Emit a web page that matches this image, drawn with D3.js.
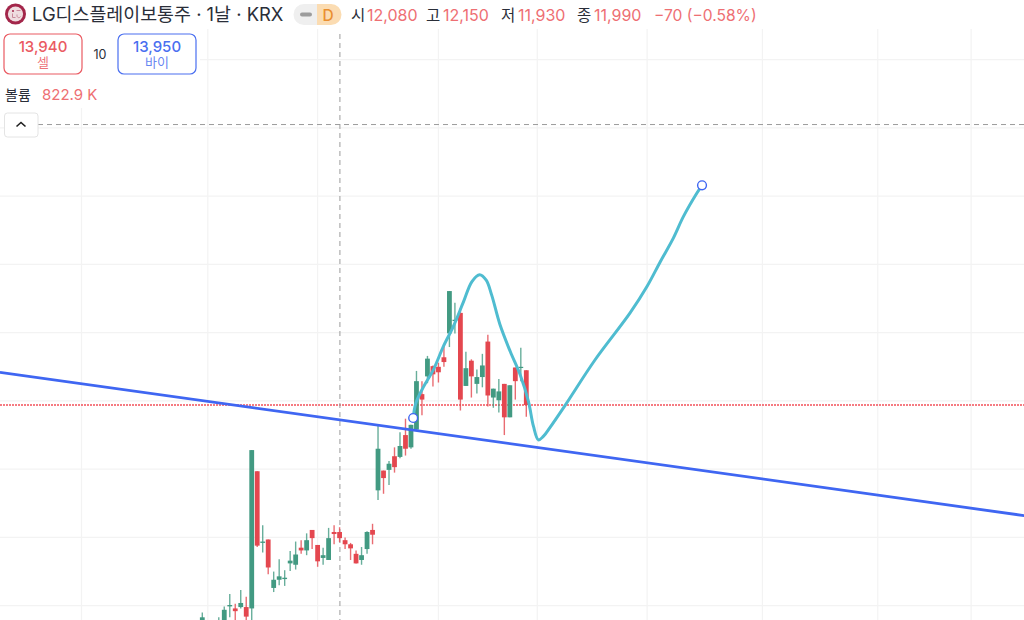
<!DOCTYPE html>
<html lang="ko">
<head>
<meta charset="utf-8">
<title>LG디스플레이보통주</title>
<script src="https://cdn.jsdelivr.net/npm/d3@7"></script>
<style>
  html, body { margin: 0; padding: 0; background: #fff; overflow: hidden; }
  svg { display: block; font-family: Inter, "Noto Sans CJK KR", sans-serif; }
</style>
</head>
<body>
<div id="chart"></div>
<script>
// Candles (bar 25 is the one named in the header)
const barOpen  = [10700,10620,10620,10650,10700,10990,10960,10980,10980,10960,12970,11920,11970,11260,11380,11390,11620,11600,11850,11810,12110,11890,11700,11670,12080,12080,11960,11900,11760,11670,11830,12110,12690,12980,12990,13190,13180,13500,13320,13580,14100,14360,14510,14500,14640,14990,15170,15290,14220,14590,14250,14350,14870,14050,14010,14250,13760,14490,14490,14450];
const barHigh  = [10900,10700,10700,10830,10990,11170,11030,11230,11130,13280,12970,12180,11970,11500,11680,11520,11800,11940,11960,12060,12110,11890,11850,12140,12180,12150,12000,11920,11810,11860,12090,12200,13660,12980,13120,13320,13540,13740,13650,14440,14290,14660,14520,14560,14830,15610,15440,15360,14720,14610,14460,14690,14970,14180,14320,14250,14230,14490,14780,14450];
const barLow   = [10600,10560,10560,10600,10650,10830,10750,10960,10700,10750,11860,11780,11460,11200,11300,11290,11510,11530,11760,11740,11830,11570,11600,11670,11900,11930,11830,11670,11620,11600,11760,11900,12550,12640,12770,12950,13160,13200,13300,13580,13790,14260,14210,14270,14500,14790,14990,13860,14220,14050,14110,14200,13920,13900,13830,13500,13760,14020,14290,13770];
const barClose = [10830,10680,10680,10720,10940,11010,10920,11040,10840,13280,11880,11940,11560,11380,11430,11410,11660,11750,11810,11960,11990,11650,11740,11990,12050,11990,11900,11840,11620,11740,12080,12040,13300,12870,13080,13030,13340,13300,13650,14290,14020,14620,14390,14420,14570,15610,15190,14020,14480,14360,14350,14520,14080,14180,14140,13760,14230,14290,14500,13940];

// Hand-drawn cyan path: bar position and price of each point
const pathBars   = [38.4,38.9,40.3,42.1,43.9,45.7,47.5,49.1,50.5,51.7,52.7,54.2,56.1,57.9,59.4,60.3,61.2,62.1,63.3,66.1,71.5,77.9,81,83.4,85.8,87.6,90.1,91];
const pathPrices = [13750,13970,14210,14460,14800,15090,15440,15750,15850,15770,15550,15120,14720,14380,13990,13630,13430,13480,13610,13940,14600,15290,15680,16040,16390,16700,17050,17160];

// Blue trend line
const trendBars   = [-36.85,149.66];
const trendPrices = [14420,12320];

// Grid, crosshair and last price
const priceTicks = [11000,12000,13000,14000,15000,16000,17000,18000,19000];
const barTicks   = [-22,1,21,43,61,81,102,123,140];
const crosshairBar = 25.06;
const crosshairPrice = 18050;
const lastPrice = 13940;

// Header text
const ohlcNames  = ["시","고","저","종"];
const ohlcValues = ["12,080","12,150","11,930","11,990"];
const ohlcNameX  = [351,426,501,577];
const ohlcValueX = [367,443,518,594];

const width = 1024, height = 620;
const colors = { up: "#429a82", down: "#e4474f", grid: "#f3f3f3", text: "#2a2e39", sell: "#ea5a62", buy: "#4a6ff0", soft: "#ee6f73" };

const svg = d3.select("#chart").append("svg")
    .attr("width", width)
    .attr("height", height);

const xScale = d3.scaleLinear().domain([0, 59]).range([202.3, 526.3]);
const yScale = d3.scaleLinear().domain([11000, 19000]).range([605.7, 59.7]);

// Grid
svg.selectAll(".grid-x").data(barTicks).enter().append("line")
    .attr("x1", d => xScale(d)).attr("x2", d => xScale(d))
    .attr("y1", 0).attr("y2", height)
    .attr("stroke", colors.grid).attr("stroke-width", 1.2);

svg.selectAll(".grid-y").data(priceTicks).enter().append("line")
    .attr("x1", 0).attr("x2", width)
    .attr("y1", d => yScale(d)).attr("y2", d => yScale(d))
    .attr("stroke", colors.grid).attr("stroke-width", 1.2);

// The legend block hides the grid behind it
svg.append("rect").attr("width", width).attr("height", 29).attr("fill", "#fff");
svg.append("rect").attr("width", 200).attr("height", 108).attr("fill", "#fff");

// Last price line, wide dots so it stays red in the photo
svg.append("line")
    .attr("x1", 0).attr("x2", width)
    .attr("y1", yScale(lastPrice)).attr("y2", yScale(lastPrice))
    .attr("stroke", "#f2505a").attr("stroke-width", 1.5)
    .attr("stroke-dasharray", "2,1");

// Crosshair
svg.append("line")
    .attr("x1", xScale(crosshairBar)).attr("x2", xScale(crosshairBar))
    .attr("y1", 34).attr("y2", height)
    .attr("stroke", "#9b9b9b").attr("stroke-width", 1)
    .attr("stroke-dasharray", "5,4");

svg.append("line")
    .attr("x1", 38).attr("x2", width)
    .attr("y1", yScale(crosshairPrice)).attr("y2", yScale(crosshairPrice))
    .attr("stroke", "#9b9b9b").attr("stroke-width", 1)
    .attr("stroke-dasharray", "5,4");

// Candles
const candles = svg.selectAll(".candle").data(barOpen).enter().append("g").attr("class", "candle");
const candleColor = (d, i) => barClose[i] >= barOpen[i] ? colors.up : colors.down;

candles.append("line")
    .attr("x1", (d, i) => xScale(i)).attr("x2", (d, i) => xScale(i))
    .attr("y1", (d, i) => yScale(barHigh[i])).attr("y2", (d, i) => yScale(barLow[i]))
    .attr("stroke", candleColor).attr("stroke-width", 1.4)
    .attr("stroke-opacity", 0.8);

candles.append("rect")
    .attr("x", (d, i) => xScale(i) - 2.4)
    .attr("width", 4.8)
    .attr("y", (d, i) => yScale(Math.max(barOpen[i], barClose[i])))
    .attr("height", (d, i) => Math.max(1.2, Math.abs(yScale(barOpen[i]) - yScale(barClose[i]))))
    .attr("fill", candleColor);

// Trend line
svg.append("line")
    .attr("x1", xScale(trendBars[0])).attr("y1", yScale(trendPrices[0]))
    .attr("x2", xScale(trendBars[1])).attr("y2", yScale(trendPrices[1]))
    .attr("stroke", "#3f66f2").attr("stroke-width", 2.8);

// Cyan path with its two end handles
const pathLine = d3.line()
    .x((d, i) => xScale(pathBars[i]))
    .y(d => yScale(d))
    .curve(d3.curveCatmullRom);

svg.append("path")
    .attr("d", pathLine(pathPrices))
    .attr("fill", "none")
    .attr("stroke", "#4fbcd0")
    .attr("stroke-width", 3)
    .attr("stroke-linecap", "round");

const lastPt = pathBars.length - 1;
svg.selectAll(".handle").data([0, lastPt]).enter().append("circle")
    .attr("cx", d => xScale(pathBars[d]))
    .attr("cy", d => yScale(pathPrices[d]))
    .attr("r", 4.4)
    .attr("fill", "#fff")
    .attr("stroke", "#3f66f2")
    .attr("stroke-width", 1.4);

// Header
const logo = svg.append("g").attr("transform", "translate(15.5,14)");
logo.append("circle").attr("r", 10.5).attr("fill", "#a3264a");
logo.append("circle").attr("r", 7.6).attr("fill", "#efdde0");
logo.append("circle").attr("cx", -2.5).attr("cy", -3).attr("r", 1).attr("fill", "#a3264a");
logo.append("path").attr("d", "M-3,-0.5V3.5H0M1,-3.5H5M1.5,0.5C1,4 4,4.5 5,2.5")
    .attr("fill", "none").attr("stroke", "#c98a9b").attr("stroke-width", 1);

svg.append("text")
    .attr("x", 32).attr("y", 21)
    .attr("font-size", 18.4).attr("fill", colors.text)
    .text("LG디스플레이보통주 · 1날 · KRX");

svg.append("path")
    .attr("d", "M317,4H304A10.5,10.5 0 0 0 304,25H317Z")
    .attr("fill", "#efefef");
svg.append("path")
    .attr("d", "M317,4H331A10.5,10.5 0 0 1 331,25H317Z")
    .attr("fill", "#fbdcb2");
svg.append("rect").attr("x", 300).attr("y", 12.5).attr("width", 12).attr("height", 4).attr("rx", 2).attr("fill", "#9c9c9c");
svg.append("text").attr("x", 328).attr("y", 20.5).attr("text-anchor", "middle")
    .attr("font-size", 15.5).attr("font-weight", 500).attr("fill", "#ea8f30").text("D");

svg.selectAll(".ohlc-name").data(ohlcNames).enter().append("text")
    .attr("x", (d, i) => ohlcNameX[i]).attr("y", 20.5)
    .attr("font-size", 15.5).attr("fill", colors.text)
    .text(d => d);

svg.selectAll(".ohlc-value").data(ohlcValues).enter().append("text")
    .attr("x", (d, i) => ohlcValueX[i]).attr("y", 20.5)
    .attr("font-size", 16).attr("fill", colors.soft)
    .text(d => d);

svg.append("text").attr("x", 654).attr("y", 20.5)
    .attr("font-size", 15.6).attr("fill", colors.soft)
    .text("−70 (−0.58%)");

// Sell and buy boxes
function priceBox(x, color, price, label) {
    svg.append("rect")
        .attr("x", x).attr("y", 34).attr("width", 78).attr("height", 40).attr("rx", 6)
        .attr("fill", "#fff").attr("stroke", color).attr("stroke-width", 1.2);
    svg.append("text").attr("x", x + 39).attr("y", 51.5).attr("text-anchor", "middle")
        .attr("font-size", 15).attr("font-weight", 500).attr("fill", color).text(price);
    svg.append("text").attr("x", x + 39).attr("y", 67).attr("text-anchor", "middle")
        .attr("font-size", 13).attr("fill", color).attr("fill-opacity", 0.85).text(label);
}
priceBox(4, colors.sell, "13,940", "셀");
priceBox(118, colors.buy, "13,950", "바이");

svg.append("text").attr("x", 100).attr("y", 59).attr("text-anchor", "middle")
    .attr("font-size", 12.5).attr("fill", colors.text).text("10");

// Volume
svg.append("text").attr("x", 5).attr("y", 100)
    .attr("font-size", 14).attr("fill", colors.text).text("볼륨");
svg.append("text").attr("x", 42).attr("y", 100)
    .attr("font-size", 15).attr("fill", colors.soft).text("822.9 K");

// Collapse button
svg.append("rect")
    .attr("x", 4.5).attr("y", 113).attr("width", 33.5).attr("height", 24).attr("rx", 3)
    .attr("fill", "#fff").attr("stroke", "#e4e4e4").attr("stroke-width", 1);
svg.append("path")
    .attr("d", "M16.5,126.5L21,122.5L25.5,126.5")
    .attr("fill", "none").attr("stroke", "#1f1f1f").attr("stroke-width", 1.6);
</script>
</body>
</html>
